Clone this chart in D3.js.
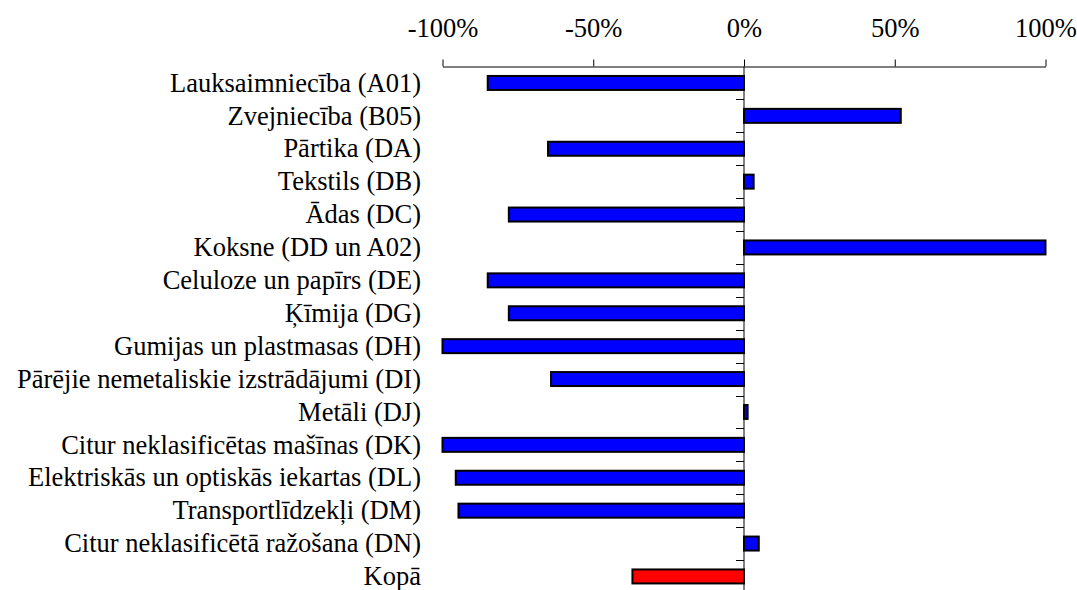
<!DOCTYPE html>
<html>
<head>
<meta charset="utf-8">
<script src="https://cdn.jsdelivr.net/npm/d3@7"></script>
<style>
  html, body { margin: 0; padding: 0; background: #fff; }
  svg { display: block; }
  svg text { font-family: "Liberation Serif", "Times New Roman", Times, serif; fill: #000; }
</style>
</head>
<body>
<svg id="chart" width="1077" height="590"></svg>
<script>
// Nozares un izmaiņas (%)
const categories = [
  "Lauksaimniecība (A01)",
  "Zvejniecība (B05)",
  "Pārtika (DA)",
  "Tekstils (DB)",
  "Ādas (DC)",
  "Koksne (DD un A02)",
  "Celuloze un papīrs (DE)",
  "Ķīmija (DG)",
  "Gumijas un plastmasas (DH)",
  "Pārējie nemetaliskie izstrādājumi (DI)",
  "Metāli (DJ)",
  "Citur neklasificētas mašīnas (DK)",
  "Elektriskās un optiskās iekartas (DL)",
  "Transportlīdzekļi (DM)",
  "Citur neklasificētā ražošana (DN)",
  "Kopā"
];
const values = [-85, 52, -65, 3.2, -78, 100, -85, -78, -100, -64, 1.2, -100, -95.6, -94.7, 4.9, -37];
const totalLabel = "Kopā";
const tickValues = [-100, -50, 0, 50, 100];

const serif = "'Liberation Serif', 'Times New Roman', Times, serif";
const fontSize = 26.5;
const svg = d3.select("#chart");

const x = d3.scaleLinear().domain([-100, 100]).range([442.5, 1045.5]);
const y = d3.scaleBand()
  .domain(categories)
  .range([66.5, 66.5 + categories.length * 32.9])
  .paddingInner(0.575)
  .paddingOuter(0.2875);

// Top value axis
const xAxis = d3.axisTop(x)
  .tickValues(tickValues)
  .tickFormat(d => d + "%")
  .tickSizeInner(7)
  .tickSizeOuter(0)
  .tickPadding(23);

const gx = svg.append("g")
  .attr("transform", "translate(0,66.5)")
  .call(xAxis)
  .attr("font-family", serif)
  .attr("font-size", fontSize);
gx.select(".domain").attr("stroke", "#000").attr("stroke-width", 1);
gx.selectAll(".tick line").attr("stroke", "#000");
gx.selectAll(".tick text").attr("fill", "#000").attr("dy", "0");

// Category axis running along the zero line
const step = y.step();
const boundaries = d3.range(1, categories.length + 1).map(i => y.range()[0] + i * step);

svg.append("line")
  .attr("x1", x(0)).attr("x2", x(0))
  .attr("y1", 66.5).attr("y2", y.range()[1])
  .attr("stroke", "#000").attr("stroke-width", 1);

svg.append("g").selectAll("line")
  .data(boundaries)
  .join("line")
  .attr("x1", x(0) - 8).attr("x2", x(0))
  .attr("y1", d => Math.round(d) + 0.5).attr("y2", d => Math.round(d) + 0.5)
  .attr("stroke", "#000").attr("stroke-width", 1);

// Bars
svg.append("g").selectAll("rect")
  .data(categories.map((c, i) => ({ c, v: values[i] })))
  .join("rect")
  .attr("x", d => x(Math.min(0, d.v)))
  .attr("y", d => y(d.c))
  .attr("width", d => Math.abs(x(d.v) - x(0)))
  .attr("height", y.bandwidth())
  .attr("fill", d => d.c === totalLabel ? "#ff0000" : "#0000ff")
  .attr("stroke", "#000")
  .attr("stroke-width", 2);

// Category labels
svg.append("g")
  .attr("font-family", serif)
  .attr("font-size", fontSize)
  .selectAll("text")
  .data(categories)
  .join("text")
  .attr("x", 421)
  .attr("y", d => y(d) + y.bandwidth() / 2)
  .attr("dy", "0.33em")
  .attr("text-anchor", "end")
  .text(d => d);
</script>
</body>
</html>
